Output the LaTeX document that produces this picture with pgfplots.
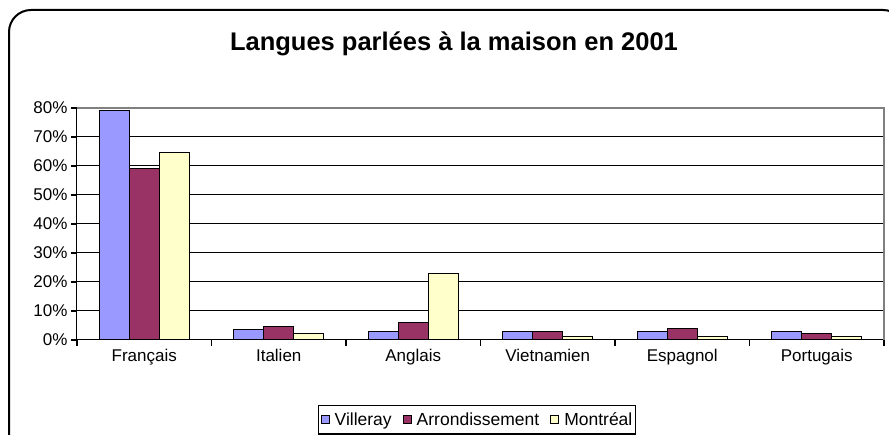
\documentclass[border=0pt]{standalone}
\usepackage{fontspec}
\setmainfont{Liberation Sans}
\usepackage{pgfplots}
\pgfplotsset{compat=1.18}
\definecolor{Cvil}{HTML}{9999FF}
\definecolor{Carr}{HTML}{993366}
\definecolor{Cmtl}{HTML}{FFFFCC}
\definecolor{Cbord}{HTML}{808080}

\begin{document}
\begin{tikzpicture}[x=1pt,y=1pt]
\useasboundingbox (0,0) rectangle (889,435);
\begin{scope}
\clip (0,0) rectangle (889,435);
\draw[line width=2pt, rounded corners=22pt] (9,-30) rectangle (905,425);
\end{scope}
\node[font=\bfseries\fontsize{25.5}{30}\selectfont] at (454,391) {Langues parlées à la maison en 2001};
\begin{axis}[
  at={(77pt,95pt)}, anchor=south west,
  scale only axis, width=807pt, height=232pt,
  xmin=-0.5, xmax=5.5, ymin=0, ymax=80,
  ybar=0pt, bar width=30pt,
  axis x line*=bottom, axis y line*=left,
  axis line style={black, line width=1pt},
  tick style={black, line width=1.2pt},
  tick align=outside,
  major tick length=6pt, minor tick length=6pt,
  xtick={0,...,5},
  xticklabels={Français,Italien,Anglais,Vietnamien,Espagnol,Portugais},
  major x tick style={draw=none},
  minor xtick={-0.5,0.5,...,5.5},
  ytick={0,10,...,80},
  yticklabel={\pgfmathprintnumber{\tick}\%},
  /pgf/number format/assume math mode=true,
  ymajorgrids, grid style={black, line width=1pt},
  ticklabel style={font=\fontsize{17}{20}\selectfont},
  legend columns=3,
  legend style={at={(0.4957,-0.28)}, anchor=north, draw=black, line width=1.3pt,
    font=\fontsize{17.5}{20}\selectfont, inner xsep=2pt, inner ysep=6pt,
    nodes={inner sep=1pt},
    /tikz/every odd column/.append style={column sep=4pt},
    /tikz/every even column/.append style={column sep=10pt}},
  legend image code/.code={\draw[#1, draw=black, line width=1pt] (0pt,-4pt) rectangle (8pt,4pt);},
  after end axis/.code={\draw[Cbord, line width=1.3pt] (rel axis cs:0,1) -- (rel axis cs:1,1) -- (rel axis cs:1,0);},
]
\addplot[fill=Cvil, draw=black, line width=1pt] coordinates {
  (0,79.3) (1,3.7) (2,2.8) (3,2.8) (4,2.8) (5,2.8)
};
\addplot[fill=Carr, draw=black, line width=1pt] coordinates {
  (0,59.3) (1,4.8) (2,6.1) (3,2.8) (4,3.8) (5,2.3)
};
\addplot[fill=Cmtl, draw=black, line width=1pt] coordinates {
  (0,64.5) (1,2.3) (2,23.0) (3,1.1) (4,1.1) (5,1.1)
};
\legend{Villeray,Arrondissement,Montréal}
\end{axis}
\end{tikzpicture}
\end{document}
